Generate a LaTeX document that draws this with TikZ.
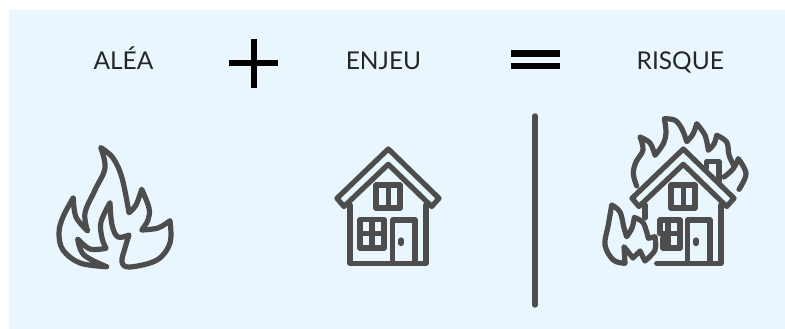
\documentclass[tikz,border=0pt]{standalone}
\usepackage{fontspec}
\setmainfont{Lato}
\definecolor{panelblue}{HTML}{E9F6FD}
\definecolor{icongray}{HTML}{4D4D4D}
\begin{document}
\begin{tikzpicture}[x=1pt, y=-1pt, line cap=round, line join=round,
    lab/.style={inner sep=0pt, anchor=base, text=black!85, font=\fontsize{24.5}{24.5}\selectfont},
    icon/.style={draw=icongray, line width=5.2pt},
    sign/.style={fill=black, draw=none}]
  \useasboundingbox (0,0) rectangle (785,329);
  \fill[panelblue] (9,10) rectangle (785,329);
  % header line
  \node[lab] (alea) at (123.5,69.5) {ALÉA};
  \node[lab] (enjeu) at (383.5,69.5) {ENJEU};
  \node[lab] (risque) at (680.3,69.5) {RISQUE};
  \fill[sign] (229,60) rectangle (278,66);
  \fill[sign] (250.7,39) rectangle (257.3,87.7);
  \fill[sign] (511,50) rectangle (560,56.7);
  \fill[sign] (511,63.3) rectangle (560,69);
  \draw[icongray, line width=5.5pt] (535,116) -- (535,305);
  % flame
  \draw[icon] plot[smooth, tension=.6] coordinates {(100.7,147.5) (113,158) (122,178) (129,212.7)}
    -- plot[smooth, tension=.6] coordinates {(129,212.7) (136,205) (141.7,189.3)}
    -- plot[smooth, tension=.6] coordinates {(141.7,189.3) (149,208) (148,220) (141.7,230)}
    -- plot[smooth, tension=.6] coordinates {(141.7,230) (158,228) (170,220.7)}
    -- plot[smooth, tension=.6] coordinates {(170,220.7) (170,243) (157,260) (130,267) (122,262) (125,248) (129,235)}
    -- plot[smooth, tension=.6] coordinates {(129,235) (118,237) (112,225) (110,202.7)}
    -- plot[smooth, tension=.6] coordinates {(110,202.7) (101,222) (102,238) (106,248.3)}
    -- plot[smooth, tension=.6] coordinates {(106,248.3) (90,249) (77.7,239)}
    -- plot[smooth, tension=.6] coordinates {(77.7,239) (84,255) (106.7,266.7)}
    -- plot[smooth, tension=.6] coordinates {(106.7,266.7) (80,263) (63,250) (59,233) (63,217) (73.3,197.7)}
    -- plot[smooth, tension=.6] coordinates {(73.3,197.7) (76,217) (87.7,231)}
    -- plot[smooth, tension=.6] coordinates {(87.7,231) (85,213) (95,190) (105,168) (100.7,147.5)} -- cycle;
  % house
  \draw[icon] (388.3,149) -- (337,198.3) -- (344,206.5) -- (388.3,164.3) -- (431.7,206.5) -- (439,198.3) -- cycle;
  \draw[icon] (350,205) -- (350,263.3) -- (426,263.3) -- (426,205);
  \draw[icon] (376,185) rectangle (400,208);
  \draw[icon] (388.3,185) -- (388.3,208);
  \draw[icon] (360,219.5) rectangle (384,248);
  \draw[icon] (372,219.5) -- (372,248);
  \draw[icon] (360,233.7) -- (384,233.7);
  \draw[icon] (392.7,263.3) -- (392.7,220) -- (415,220) -- (415,263.3);
  \draw[icon] (401,240) -- (401,243.5);
  % burning house
  \begin{scope}[xshift=295pt]
    \draw[icon] (388.3,149) -- (337,198.3) -- (344,206.5) -- (388.3,164.3) -- (431.7,206.5) -- (439,198.3) -- cycle;
    \draw[icon] (350,205) -- (350,218);
    \draw[icon] (361.7,263.3) -- (426,263.3) -- (426,205);
    \draw[icon] (376,185) rectangle (400,208);
    \draw[icon] (388.3,185) -- (388.3,208);
    \draw[icon] (365,233.7) -- (365,220) -- (385,220) -- (385,248) -- (368,248) -- (368,238);
    \draw[icon] (373,220) -- (373,248);
    \draw[icon] (366,233.7) -- (385,233.7);
    \draw[icon] (392.7,263.3) -- (392.7,220) -- (415,220) -- (415,263.3);
    \draw[icon] (401,240) -- (401,243.5);
    \draw[icon] (411.7,168) -- (411.7,161.7) -- (424,161.7) -- (424,181.7);
  \end{scope}
  % big flame
  \draw[icon] plot[smooth, tension=.6] coordinates {(636.7,186) (633.3,173.7) (636,162) (643,150) (640,137)}
    -- plot[smooth, tension=.6] coordinates {(640,137) (650,143) (655,155.3)}
    -- plot[smooth, tension=.6] coordinates {(655,155.3) (663.3,143.7) (666,132) (664.3,118.7)}
    -- plot[smooth, tension=.6] coordinates {(664.3,118.7) (675,120.3) (682,129) (686.7,141.7)}
    -- plot[smooth, tension=.6] coordinates {(686.7,141.7) (693,134) (696.7,123.7)}
    -- plot[smooth, tension=.6] coordinates {(696.7,123.7) (705,135.3) (708.3,150.3)}
    -- plot[smooth, tension=.6] coordinates {(708.3,150.3) (714,144) (716.7,135.3)}
    -- plot[smooth, tension=.6] coordinates {(716.7,135.3) (726.7,142) (729,155) (734,166)};
  \draw[icon] plot[smooth, tension=.6] coordinates {(724,177) (733,169) (738.3,158.7)}
    -- plot[smooth, tension=.6] coordinates {(738.3,158.7) (746,173.7) (739,189.3)};
  % small flame
  \draw[icon] plot[smooth, tension=.6] coordinates {(611.7,205) (620,212) (624,228) (626.7,236.7)}
    -- plot[smooth, tension=.6] coordinates {(626.7,236.7) (632,228) (634.3,217.5)}
    -- plot[smooth, tension=.6] coordinates {(634.3,217.5) (643.3,223) (648.3,238.3)}
    -- plot[smooth, tension=.6] coordinates {(648.3,238.3) (655,236.7)}
    -- plot[smooth, tension=.6] coordinates {(655,236.7) (655,250) (645,261)}
    -- plot[smooth, tension=.6] coordinates {(645,261) (640,251)}
    -- plot[smooth, tension=.6] coordinates {(640,251) (633,258)}
    -- plot[smooth, tension=.6] coordinates {(633,258) (624,246.7)}
    -- plot[smooth, tension=.6] coordinates {(624,246.7) (625,263.3)}
    -- plot[smooth, tension=.6] coordinates {(625,263.3) (613.3,260) (605,245) (608.3,225) (611.7,205)} -- cycle;
\end{tikzpicture}
\end{document}
